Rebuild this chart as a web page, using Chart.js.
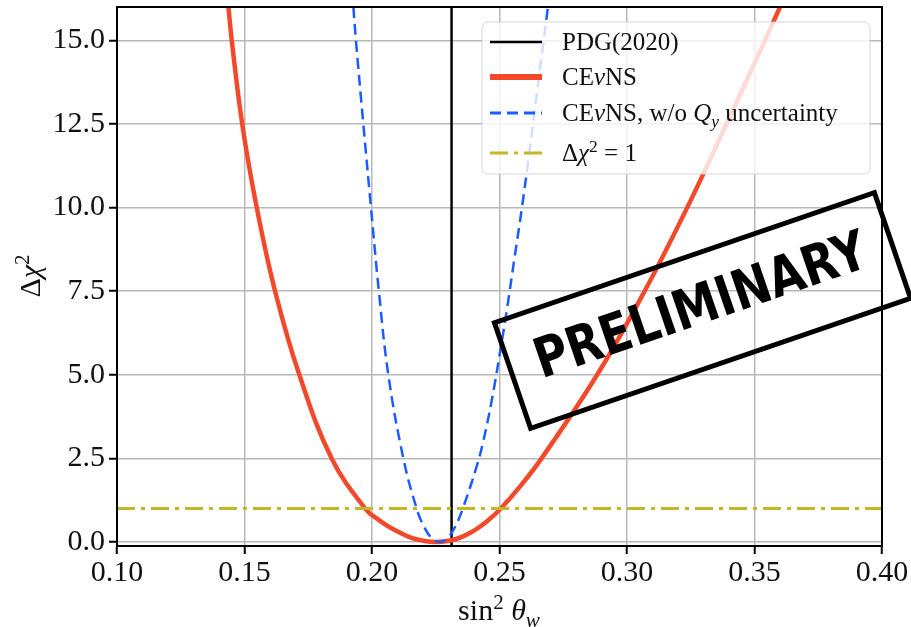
<!DOCTYPE html>
<html>
<head>
<meta charset="utf-8">
<script src="https://cdn.jsdelivr.net/npm/chart.js@4/dist/chart.umd.min.js"></script>
<style>
  html, body { margin: 0; padding: 0; background: #fff; }
  #wrap { position: relative; width: 911px; height: 627px; }
</style>
</head>
<body>
<div id="wrap"><canvas id="chi2Chart"></canvas></div>
<script>
// values
const xTicks = [0.10, 0.15, 0.20, 0.25, 0.30, 0.35, 0.40];
const yTicks = [0.0, 2.5, 5.0, 7.5, 10.0, 12.5, 15.0];
const xLimits = [0.10, 0.40];
const yLimits = [-0.12, 16.0];

const pdgValue = 0.2312;          // PDG(2020) sin^2 theta_w
const oneSigmaLevel = 1.0;        // delta chi^2 = 1

// CEvNS (full)
const redX = [0.1437, 0.1450, 0.1491, 0.1548, 0.1620, 0.1715, 0.1842, 0.1973, 0.2030, 0.2075, 0.2150, 0.2200, 0.2255,
              0.2330, 0.2400, 0.2450, 0.2505, 0.2585, 0.2665, 0.2883, 0.3069, 0.3236, 0.3390, 0.3541, 0.3600];
const redY = [16.0, 15.0, 12.5, 10.0, 7.5, 5.0, 2.5, 1.0, 0.64, 0.42, 0.14, 0.04, 0.0,
              0.09, 0.34, 0.61, 1.0, 1.7, 2.5, 5.0, 7.5, 10.0, 12.5, 15.0, 16.0];

// CEvNS, w/o Qy uncertainty
const blueX = [0.1927, 0.1937, 0.1966, 0.1996, 0.2027, 0.2064, 0.2123, 0.2175, 0.2205, 0.2235, 0.2265,
               0.2295, 0.2325, 0.2356, 0.2410, 0.2436, 0.2470, 0.2508, 0.2529, 0.2558, 0.2588, 0.2617, 0.2657, 0.2690];
const blueY = [16.0, 15.0, 12.5, 10.0, 7.5, 5.0, 2.5, 1.0, 0.44, 0.11, 0.0,
               0.11, 0.44, 1.0, 2.25, 3.0, 4.25, 5.95, 6.95, 8.45, 10.0, 11.65, 14.05, 16.0];

const legendLabels = [
  [{t: 'PDG(2020)'}],
  [{t: 'CE'}, {t: 'ν', it: true}, {t: 'NS'}],
  [{t: 'CE'}, {t: 'ν', it: true}, {t: 'NS, w/o '}, {t: 'Q', it: true}, {t: 'y', it: true, sub: true}, {t: ' uncertainty'}],
  [{t: 'Δ'}, {t: 'χ', it: true}, {t: '2', sup: true}, {t: ' = 1'}]
];

const SERIF = '"Liberation Serif", "DejaVu Serif", serif';
const RED = '#f2492d';
const BLUE = '#1a5cff';
const OLIVE = '#c2b826';

const zip = (xs, ys) => xs.map((x, i) => ({x: x, y: ys[i]}));

// draw a run of text pieces (normal / italic / sub / sup), returns width
function drawRich(ctx, pieces, x, y, size, measureOnly) {
  let cx = x;
  pieces.forEach(p => {
    const s = (p.sub || p.sup) ? size * 0.7 : size;
    ctx.font = (p.it ? 'italic ' : '') + s + 'px ' + SERIF;
    let dy = 0;
    if (p.sub) dy = size * 0.22;
    if (p.sup) dy = -size * 0.38;
    if (!measureOnly) ctx.fillText(p.t, cx, y + dy);
    cx += ctx.measureText(p.t).width;
  });
  return cx - x;
}

const decorPlugin = {
  id: 'decor',
  afterDatasetsDraw(chart) {
    const ctx = chart.ctx;
    const a = chart.chartArea;

    // frame (all four spines)
    ctx.save();
    ctx.strokeStyle = '#000';
    ctx.lineWidth = 2;
    ctx.strokeRect(a.left, a.top, a.right - a.left, a.bottom - a.top);
    ctx.restore();

    // legend box
    ctx.save();
    const lx = 482, ly = 22, lw = 388, lh = 152, r = 6;
    ctx.beginPath();
    ctx.roundRect(lx, ly, lw, lh, r);
    ctx.fillStyle = 'rgba(255,255,255,0.8)';
    ctx.fill();
    ctx.strokeStyle = 'rgba(204,204,204,0.8)';
    ctx.lineWidth = 1;
    ctx.stroke();

    const rows = [42, 77, 113, 153];
    const handles = [
      {c: '#000', w: 2.5, d: []},
      {c: RED, w: 6, d: []},
      {c: BLUE, w: 3, d: [11, 6]},
      {c: OLIVE, w: 3, d: [18, 6, 4, 6]}
    ];
    rows.forEach((ry, i) => {
      const h = handles[i];
      ctx.beginPath();
      ctx.setLineDash(h.d);
      ctx.strokeStyle = h.c;
      ctx.lineWidth = h.w;
      ctx.moveTo(490, ry);
      ctx.lineTo(542, ry);
      ctx.stroke();
      ctx.setLineDash([]);
      ctx.fillStyle = '#111';
      ctx.textBaseline = 'alphabetic';
      drawRich(ctx, legendLabels[i], 562, ry + 8, 25);
    });
    ctx.restore();

    // axis titles
    ctx.save();
    ctx.fillStyle = '#111';
    ctx.textBaseline = 'alphabetic';
    const xt = [{t: 'sin'}, {t: '2', sup: true}, {t: ' '}, {t: 'θ', it: true}, {t: 'w', it: true, sub: true}];
    const xw = drawRich(ctx, xt, 0, 0, 30, true);
    drawRich(ctx, xt, 499 - xw / 2, 620, 30);
    const yt = [{t: 'Δ'}, {t: 'χ', it: true}, {t: '2', sup: true}];
    const yw = drawRich(ctx, yt, 0, 0, 30, true);
    ctx.translate(40, 276);
    ctx.rotate(-Math.PI / 2);
    drawRich(ctx, yt, -yw / 2, 0, 30);
    ctx.restore();

    // "PRELIMINARY" stamp
    ctx.save();
    ctx.translate(702.5, 310.5);
    ctx.rotate(-18.9 * Math.PI / 180);
    ctx.strokeStyle = '#000';
    ctx.lineWidth = 5;
    ctx.strokeRect(-200.8, -55.8, 401.6, 111.7);
    ctx.font = 'bold 55px "DejaVu Sans", sans-serif';
    ctx.textAlign = 'center';
    ctx.textBaseline = 'middle';
    const tw = ctx.measureText('PRELIMINARY').width;
    ctx.translate(0, -2);
    ctx.scale(348 / tw, 1);
    ctx.fillStyle = '#000';
    ctx.fillText('PRELIMINARY', 0, 0);
    ctx.restore();
  }
};

const tickFont = {family: SERIF, size: 30};

new Chart(document.getElementById('chi2Chart'), {
  type: 'line',
  data: {
    datasets: [
      {
        label: 'PDG(2020)',
        data: zip([pdgValue, pdgValue], yLimits),
        borderColor: '#000', borderWidth: 2.5,
        pointRadius: 0, order: 3
      },
      {
        label: 'CEνNS',
        data: zip(redX, redY),
        borderColor: RED, borderWidth: 4.5,
        pointRadius: 0, tension: 0.4, order: 2
      },
      {
        label: 'CEνNS, w/o Qy uncertainty',
        data: zip(blueX, blueY),
        borderColor: BLUE, borderWidth: 2.5, borderDash: [11, 6],
        pointRadius: 0, tension: 0.4, order: 1
      },
      {
        label: 'Δχ² = 1',
        data: zip(xLimits, [oneSigmaLevel, oneSigmaLevel]),
        borderColor: OLIVE, borderWidth: 3, borderDash: [18, 6, 4, 6],
        pointRadius: 0, order: 0
      }
    ]
  },
  options: {
    responsive: true,
    maintainAspectRatio: false,
    animation: false,
    layout: {padding: {top: 7, right: 29, left: 0, bottom: 0}},
    plugins: {legend: {display: false}, tooltip: {enabled: false}},
    scales: {
      x: {
        type: 'linear',
        min: xLimits[0], max: xLimits[1],
        afterBuildTicks: s => { s.ticks = xTicks.map(v => ({value: v})); },
        afterFit: s => { s.height = 81; s.paddingLeft = 0; s.paddingRight = 0; },
        ticks: {font: tickFont, color: '#111', padding: 1, maxRotation: 0,
                callback: v => v.toFixed(2)},
        grid: {color: '#b8b8b8', lineWidth: 1.5, tickColor: '#000', tickLength: 8, tickWidth: 2},
        border: {color: '#000', width: 2}
      },
      y: {
        min: yLimits[0], max: yLimits[1],
        afterBuildTicks: s => { s.ticks = yTicks.map(v => ({value: v})); },
        afterFit: s => { s.width = 117; s.paddingTop = 0; s.paddingBottom = 0; },
        ticks: {font: tickFont, color: '#111', padding: 4,
                callback: v => v.toFixed(1)},
        grid: {color: '#b8b8b8', lineWidth: 1.5, tickColor: '#000', tickLength: 8, tickWidth: 2},
        border: {color: '#000', width: 2}
      }
    }
  },
  plugins: [decorPlugin]
});
</script>
</body>
</html>
